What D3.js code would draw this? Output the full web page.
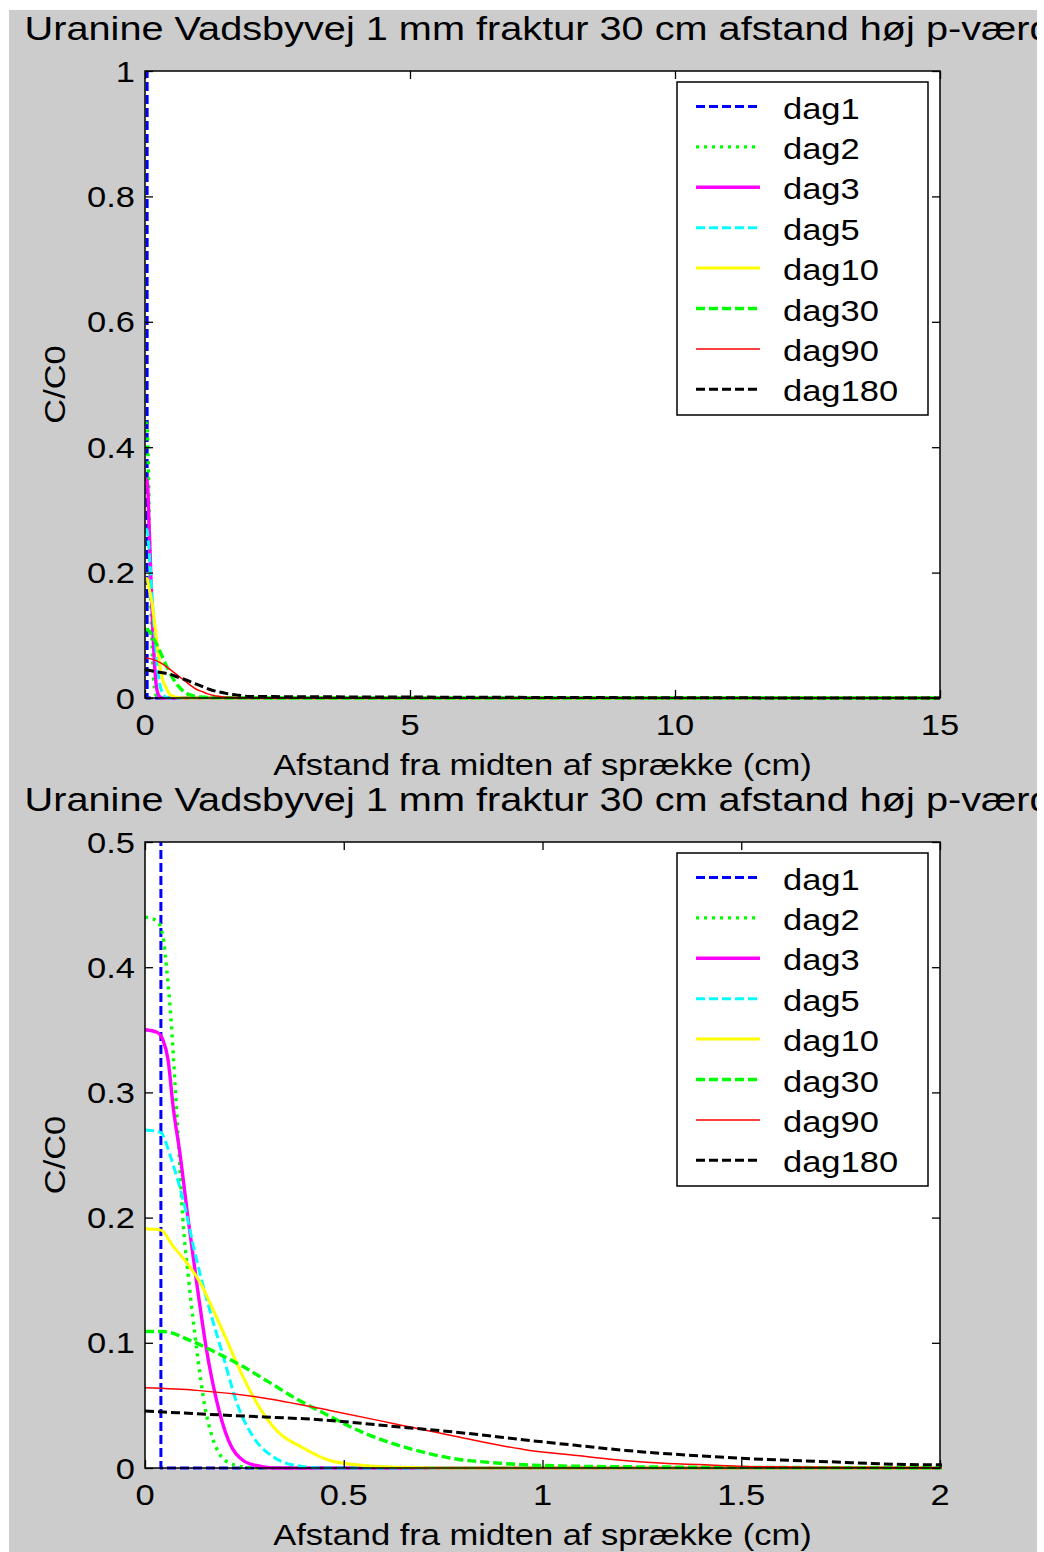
<!DOCTYPE html>
<html>
<head>
<meta charset="utf-8">
<script src="https://cdn.jsdelivr.net/npm/d3@7"></script>
<style>
  html, body { margin: 0; padding: 0; background: #ffffff; }
  svg { display: block; }
  text { font-family: "Liberation Sans", Arial, Helvetica, sans-serif; fill: #000; }
</style>
</head>
<body>
<svg id="fig" width="1044" height="1552"></svg>
<script>
// ---- data: concentration profiles C/C0 versus distance from the fracture centre (cm) ----
const seriesNames = ["dag1", "dag2", "dag3", "dag5", "dag10", "dag30", "dag90", "dag180"];

const dag1X = [0, 0.04, 0.04, 15];
const dag1Y = [1, 1, 0, 0];

const dag2X = [0, 0.03, 0.045, 0.055, 0.065, 0.075, 0.085, 0.095, 0.11, 0.13, 0.15, 0.17, 0.19, 0.22, 0.26, 0.3, 15];
const dag2Y = [0.44, 0.437, 0.425, 0.397, 0.36, 0.31, 0.255, 0.2, 0.15, 0.095, 0.05, 0.024, 0.01, 0.003, 0.0005, 0, 0];

const dag3X = [0, 0.03, 0.045, 0.058, 0.071, 0.088, 0.108, 0.13, 0.155, 0.18, 0.21, 0.247, 0.28, 0.32, 15];
const dag3Y = [0.35, 0.348, 0.342, 0.326, 0.288, 0.251, 0.2, 0.148, 0.094, 0.054, 0.022, 0.006, 0.002, 0, 0];

const dag5X = [0, 0.04, 0.05, 0.063, 0.096, 0.13, 0.163, 0.197, 0.231, 0.272, 0.322, 0.38, 0.45, 15];
const dag5Y = [0.27, 0.268, 0.262, 0.25, 0.214, 0.166, 0.126, 0.089, 0.052, 0.025, 0.009, 0.002, 0, 0];

const dag10X = [0, 0.04, 0.071, 0.105, 0.139, 0.172, 0.206, 0.239, 0.281, 0.331, 0.398, 0.465, 0.55, 0.65, 0.75, 15];
const dag10Y = [0.191, 0.19, 0.177, 0.164, 0.148, 0.126, 0.102, 0.078, 0.052, 0.03, 0.016, 0.006, 0.002, 0.0005, 0, 0];

const dag30X = [0, 0.045, 0.113, 0.18, 0.247, 0.315, 0.382, 0.449, 0.516, 0.6, 0.683, 0.767, 0.885, 1.05, 1.3, 1.6, 2, 3, 15];
const dag30Y = [0.109, 0.109, 0.102, 0.092, 0.081, 0.068, 0.055, 0.044, 0.033, 0.022, 0.014, 0.008, 0.004, 0.0016, 0.0008, 0.0004, 0.0002, 0, 0];

const dag90X = [0, 0.13, 0.298, 0.465, 0.633, 0.8, 0.968, 1.087, 1.17, 1.296, 1.42, 1.56, 1.8, 2, 3, 15];
const dag90Y = [0.064, 0.062, 0.056, 0.046, 0.035, 0.024, 0.014, 0.01, 0.007, 0.004, 0.0024, 0.001, 0.0004, 0.0002, 0.0001, 0];

const dag180X = [0, 0.214, 0.465, 0.633, 0.8, 0.968, 1.087, 1.21, 1.38, 1.55, 1.72, 1.88, 2, 3, 5, 8, 10, 15];
const dag180Y = [0.0455, 0.042, 0.038, 0.033, 0.028, 0.022, 0.018, 0.014, 0.01, 0.007, 0.005, 0.003, 0.0025, 0.002, 0.0015, 0.0008, 0.0004, 0];

const seriesX = [dag1X, dag2X, dag3X, dag5X, dag10X, dag30X, dag90X, dag180X];
const seriesY = [dag1Y, dag2Y, dag3Y, dag5Y, dag10Y, dag30Y, dag90Y, dag180Y];

// axis ticks and their labels
const topXTicks = [0, 5, 10, 15];
const topXTickLabels = ["0", "5", "10", "15"];
const topYTicks = [0, 0.2, 0.4, 0.6, 0.8, 1];
const topYTickLabels = ["0", "0.2", "0.4", "0.6", "0.8", "1"];
const botXTicks = [0, 0.5, 1, 1.5, 2];
const botXTickLabels = ["0", "0.5", "1", "1.5", "2"];
const botYTicks = [0, 0.1, 0.2, 0.3, 0.4, 0.5];
const botYTickLabels = ["0", "0.1", "0.2", "0.3", "0.4", "0.5"];

const titleText = "Uranine Vadsbyvej 1 mm fraktur 30 cm afstand høj p-værdi";
const xLabelText = "Afstand fra midten af sprække (cm)";
const yLabelText = "C/C0";

// ---- line styles per series ----
const lineColors = ["#0000ff", "#00ff00", "#ff00ff", "#00ffff", "#ffff00", "#00ff00", "#ff0000", "#000000"];
const lineDash = ["9,4", "3,5", null, "9,4", null, "9,4", null, "9,4"];
const lineWidth = [3, 3.4, 3.4, 3, 3, 3.4, 1.5, 3];

// ---- drawing ----
const svg = d3.select("#fig");
const FS = 34.5, SY = 0.86;          // tick/label font size and vertical squeeze
const TFS = 39.7, TSY = 0.85;        // title font

const defs = svg.append("defs");
defs.append("clipPath").attr("id", "figClip")
  .append("rect").attr("x", 9).attr("y", 10).attr("width", 1028).attr("height", 1542);

const root = svg.append("g").attr("clip-path", "url(#figClip)");
root.append("rect").attr("x", 9).attr("y", 10).attr("width", 1028).attr("height", 1542).attr("fill", "#cccccc");

function txt(g, x, y, s, anchor, size, sy, rot) {
  return g.append("text")
    .attr("transform", `translate(${x},${y})` + (rot ? ` rotate(${rot})` : "") + ` scale(1,${sy})`)
    .attr("text-anchor", anchor)
    .attr("font-size", size)
    .text(s);
}

const L = 145, R = 940;

function panel(idx, top, bottom, xDomain, yDomain, xTicks, xLabels, yTicks, yLabels) {
  const g = root.append("g");
  const x = d3.scaleLinear().domain(xDomain).range([L, R]);
  const y = d3.scaleLinear().domain(yDomain).range([bottom, top]);

  g.append("rect").attr("x", L).attr("y", top).attr("width", R - L).attr("height", bottom - top)
    .attr("fill", "#ffffff");

  const cid = "plotClip" + idx;
  defs.append("clipPath").attr("id", cid)
    .append("rect").attr("x", L - 2).attr("y", top).attr("width", R - L + 4).attr("height", bottom - top + 2);

  const lines = g.append("g").attr("clip-path", `url(#${cid})`);
  const stepLine = d3.line().x(d => x(d[0])).y(d => y(d[1]));
  const smoothLine = d3.line().x(d => x(d[0])).y(d => y(d[1])).curve(d3.curveMonotoneX);
  seriesNames.forEach((name, i) => {
    const pts = d3.zip(seriesX[i], seriesY[i]);
    lines.append("path")
      .attr("d", (i === 0 ? stepLine : smoothLine)(pts))
      .attr("fill", "none")
      .attr("stroke", lineColors[i])
      .attr("stroke-width", lineWidth[i])
      .attr("stroke-dasharray", lineDash[i])
      .attr("stroke-linejoin", "round");
  });

  // inward ticks on all four sides
  const tk = 8;
  const axStyle = sel => {
    sel.select(".domain").remove();
    sel.selectAll(".tick line").attr("stroke", "#000").attr("stroke-width", 1.3);
  };
  g.append("g").attr("transform", `translate(0,${bottom})`)
    .call(d3.axisBottom(x).tickValues(xTicks).tickSize(-tk).tickFormat("")).call(axStyle);
  g.append("g").attr("transform", `translate(0,${top})`)
    .call(d3.axisTop(x).tickValues(xTicks).tickSize(-tk).tickFormat("")).call(axStyle);
  g.append("g").attr("transform", `translate(${L},0)`)
    .call(d3.axisLeft(y).tickValues(yTicks).tickSize(-tk).tickFormat("")).call(axStyle);
  g.append("g").attr("transform", `translate(${R},0)`)
    .call(d3.axisRight(y).tickValues(yTicks).tickSize(-tk).tickFormat("")).call(axStyle);

  g.append("rect").attr("x", L).attr("y", top).attr("width", R - L).attr("height", bottom - top)
    .attr("fill", "none").attr("stroke", "#000").attr("stroke-width", 1.5);

  // tick labels
  xTicks.forEach((v, i) => txt(g, x(v), bottom + 37, xLabels[i], "middle", FS, SY));
  yTicks.forEach((v, i) => txt(g, L - 10, y(v) + 10.6, yLabels[i], "end", FS, SY));

  // axis labels and title
  txt(g, (L + R) / 2, bottom + 77, xLabelText, "middle", FS, SY);
  txt(g, 65, (top + bottom) / 2, yLabelText, "middle", FS, SY, -90);
  txt(g, (L + R) / 2, top - 31, titleText, "middle", TFS, TSY);

  // legend
  const lg = g.append("g");
  const lx = 677, ly = top + 11, lw = 251, lh = 333;
  lg.append("rect").attr("x", lx).attr("y", ly).attr("width", lw).attr("height", lh)
    .attr("fill", "#ffffff").attr("stroke", "#000").attr("stroke-width", 1.5);
  seriesNames.forEach((name, i) => {
    const cy = ly + 24.5 + i * 40.4;
    lg.append("line").attr("x1", 696).attr("x2", 760).attr("y1", cy).attr("y2", cy)
      .attr("stroke", lineColors[i]).attr("stroke-width", lineWidth[i])
      .attr("stroke-dasharray", lineDash[i]);
    txt(lg, 783, cy + 12, name, "start", FS, SY);
  });
}

panel(0, 71, 698, [0, 15], [0, 1], topXTicks, topXTickLabels, topYTicks, topYTickLabels);
panel(1, 842, 1468, [0, 2], [0, 0.5], botXTicks, botXTickLabels, botYTicks, botYTickLabels);
</script>
</body>
</html>
